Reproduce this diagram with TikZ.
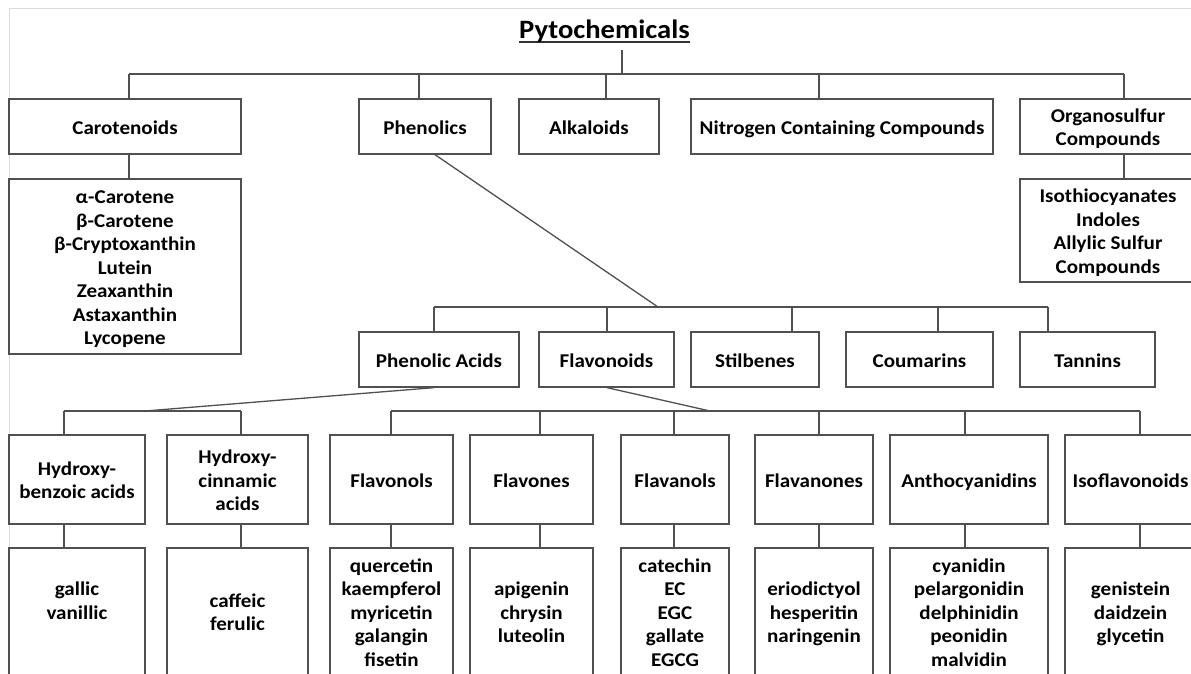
\documentclass[tikz,border=0pt]{standalone}
\usepackage{fontspec}
\setmainfont{Carlito}[FakeStretch=1.08]
\definecolor{linec}{RGB}{80,80,80}
\definecolor{framec}{RGB}{220,220,220}
\tikzset{
  box/.style={draw=linec, line width=1.3pt, fill=white, align=center,
    font=\bfseries\fontsize{19.5}{23.5}\selectfont, inner sep=0pt},
  conn/.style={draw=linec, line width=1.3pt},
  frameline/.style={draw=framec, line width=1pt},
  titlefont/.style={font=\bfseries\fontsize{26.5}{30}\selectfont, inner sep=0pt}
}
\newcommand\mybox[6]{%
  \node[box, minimum width={#4-#2}, minimum height={#5-#3}] (#1) at ({(#2+#4)/2},{(#3+#5)/2})
    {\rule{0pt}{21.4pt}#6\rule[-6pt]{0pt}{6pt}};}
\newcommand\myul[1]{\setbox0\hbox{#1}\rlap{\color{black!80}\rule[-5.3pt]{\wd0}{1.9pt}}\box0}
\begin{document}
\begin{tikzpicture}[x=1pt,y=-1pt]
\useasboundingbox (0,0) rectangle (1191,673);
\clip (0,0) rectangle (1191,673);
\fill[white] (0,0) rectangle (1191,673);
% frame
\draw[frameline] (9,673) -- (9,8) -- (1191,8);
% title
\node[titlefont, anchor=base] (title) at (604.5,38) {\myul{Pytochemicals}};
% top row
\mybox{car}{9}{99}{241}{154}{Carotenoids}
\mybox{phen}{359}{99}{491}{154}{Phenolics}
\mybox{alk}{519}{99}{659}{154}{Alkaloids}
\mybox{nit}{691}{99}{993}{154}{Nitrogen Containing Compounds}
\mybox{org}{1020}{99}{1196}{154}{Organosulfur\\Compounds}
\mybox{carl}{9}{179}{241}{354}{α-Carotene\\β-Carotene\\β-Cryptoxanthin\\Lutein\\Zeaxanthin\\Astaxanthin\\Lycopene}
\mybox{orgl}{1020}{179}{1196}{282}{Isothiocyanates\\Indoles\\Allylic Sulfur\\Compounds}
% second row
\mybox{pa}{359}{332}{519}{387}{Phenolic Acids}
\mybox{fla}{539}{332}{674}{387}{Flavonoids}
\mybox{sti}{691}{332}{819}{387}{Stilbenes}
\mybox{cou}{846}{332}{993}{387}{Coumarins}
\mybox{tan}{1020}{332}{1155}{387}{Tannins}
% third row
\mybox{hb}{9}{435}{145}{524}{Hydroxy-\\benzoic acids}
\mybox{hc}{167}{435}{308}{524}{Hydroxy-\\cinnamic\\acids}
\mybox{fl1}{330}{435}{453}{524}{Flavonols}
\mybox{fl2}{470}{435}{593}{524}{Flavones}
\mybox{fl3}{621}{435}{729}{524}{Flavanols}
\mybox{fl4}{755}{435}{873}{524}{Flavanones}
\mybox{ant}{890}{435}{1048}{524}{Anthocyanidins}
\mybox{iso}{1065}{435}{1196}{524}{Isoflavonoids}
% bottom row
\mybox{hbl}{9}{548}{145}{675}{gallic\\vanillic\\~}
\mybox{hcl}{167}{548}{308}{675}{caffeic\\ferulic}
\mybox{fl1l}{330}{548}{453}{675}{quercetin\\kaempferol\\myricetin\\galangin\\fisetin}
\mybox{fl2l}{470}{548}{593}{675}{apigenin\\chrysin\\luteolin}
\mybox{fl3l}{621}{548}{729}{675}{catechin\\EC\\EGC\\gallate\\EGCG}
\mybox{fl4l}{755}{548}{873}{675}{eriodictyol\\hesperitin\\naringenin}
\mybox{antl}{890}{548}{1048}{675}{cyanidin\\pelargonidin\\delphinidin\\peonidin\\malvidin}
\mybox{isol}{1065}{548}{1196}{675}{genistein\\daidzein\\glycetin}
% connectors: level 1
\coordinate (t1) at (622,50);
\coordinate (t2) at (622,74);
\draw[conn] (t1) -- (t2);
\coordinate (a1) at (129,74);
\coordinate (a2) at (419,74);
\coordinate (a3) at (606,74);
\coordinate (a4) at (819,74);
\coordinate (a5) at (1124,74);
\draw[conn] (a1) -- (a5);
\foreach \c/\n in {a1/car,a2/phen,a3/alk,a4/nit,a5/org}
  \draw[conn] (\c) -- (\c |- \n.north);
\draw[conn] (car.south -| a1) -- (carl.north -| a1);
\draw[conn] (org.south -| a5) -- (orgl.north -| a5);
% level 2
\coordinate (b0) at (658,307);
\draw[conn] ([xshift=10pt]phen.south) -- (b0);
\coordinate (c1) at (434,307);
\coordinate (c2) at (607,307);
\coordinate (c3) at (792,307);
\coordinate (c4) at (938,307);
\coordinate (c5) at (1048,307);
\draw[conn] (c1) -- (c5);
\foreach \c/\n in {c1/pa,c2/fla,c3/sti,c4/cou,c5/tan}
  \draw[conn] (\c) -- (\c |- \n.north);
% level 3 (phenolic acids)
\coordinate (d0) at (145,411);
\draw[conn] (pa.south -| c1) -- (d0);
\coordinate (e1) at (64,411);
\coordinate (e2) at (241,411);
\draw[conn] (e1) -- (e2);
\foreach \c/\n in {e1/hb,e2/hc}
  \draw[conn] (\c) -- (\c |- \n.north);
% level 3 (flavonoids)
\coordinate (f0) at (710,411);
\draw[conn] (fla.south -| c2) -- (f0);
\coordinate (g1) at (391,411);
\coordinate (g2) at (540,411);
\coordinate (g3) at (674,411);
\coordinate (g4) at (819,411);
\coordinate (g5) at (965,411);
\coordinate (g6) at (1140,411);
\draw[conn] (g1) -- (g6);
\foreach \c/\n in {g1/fl1,g2/fl2,g3/fl3,g4/fl4,g5/ant,g6/iso}
  \draw[conn] (\c) -- (\c |- \n.north);
% level 4
\foreach \c/\n/\m in {e1/hb/hbl,e2/hc/hcl,g1/fl1/fl1l,g2/fl2/fl2l,g3/fl3/fl3l,g4/fl4/fl4l,g5/ant/antl,g6/iso/isol}
  \draw[conn] (\n.south -| \c) -- (\m.north -| \c);
\end{tikzpicture}
\end{document}
